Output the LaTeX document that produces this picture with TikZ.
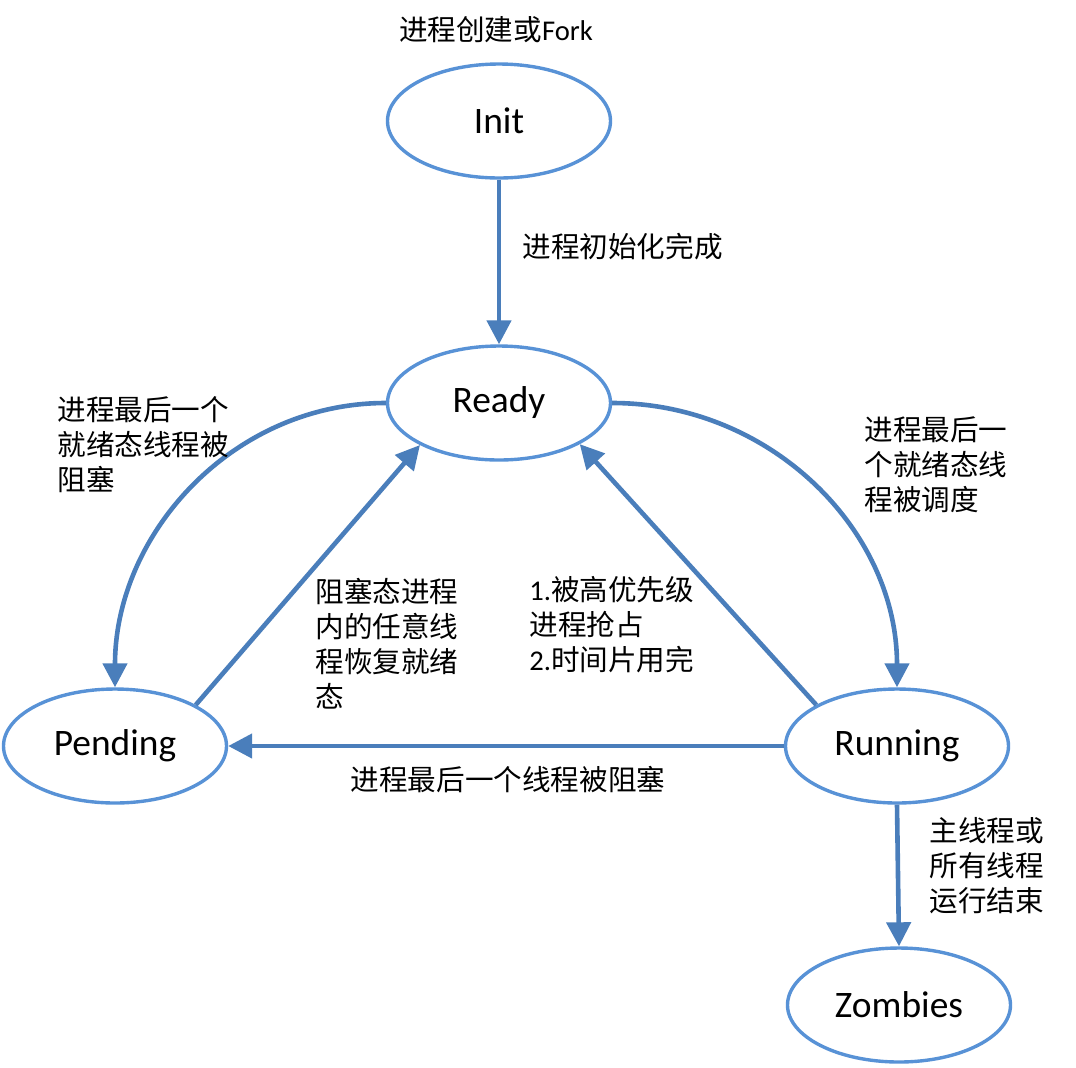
\documentclass[tikz,border=0pt]{standalone}
\usepackage{fontspec}
\setmainfont{Noto Sans CJK SC}
\newfontfamily\latin{Carlito}
\usepackage{xcolor}
\usetikzlibrary{shapes.geometric}
\usetikzlibrary{arrows.meta}
\definecolor{ringblue}{RGB}{88,146,214}
\definecolor{edgeblue}{RGB}{74,126,187}

\begin{document}
\begin{tikzpicture}[x=0.5pt,y=-0.5pt,
  proc/.style={ellipse,draw=ringblue,line width=1.7pt,minimum width=111.5pt,minimum height=57pt,inner sep=0pt,font=\latin\fontsize{18.7}{22}\selectfont},
  lbl/.style={inner sep=0pt,align=left,font=\fontsize{14.3}{17.5}\selectfont},
  edge/.style={draw=edgeblue,line width=2.3pt,-{Triangle[length=12pt,width=12pt]}}]

  \useasboundingbox (0,0) rectangle (1076,1067);

  \node[proc] at (499,121) (init){Init};
  \node[proc] at (499,403) (ready){Ready};
  \node[proc] at (115,746) (pending){Pending};
  \node[proc] at (897,746) (running){Running};
  \node[proc] at (899,1005) (zombies){Zombies};

  % transitions
  \draw[edge] (init.south) -- (ready.north);
  \draw[edge] (ready.west) to[out=180,in=90] (pending.north);
  \draw[edge] (ready.east) to[out=0,in=90] (running.north);
  \draw[edge] (pending.27) -- (ready.208);
  \draw[edge] (running.153) -- (ready.333);
  \draw[edge] (running.west) -- (pending.east);
  \draw[edge] (running.south) -- (zombies.north);

  % labels
  \node[lbl] at (496,30) (lfork){进程创建或{\latin Fork}};
  \node[lbl,anchor=west] at (522,247) (linit){进程初始化完成};
  \node[lbl,anchor=west] at (57,445) (lblock){进程最后一个\\就绪态线程被\\阻塞};
  \node[lbl,anchor=west] at (864,465) (lsched){进程最后一\\个就绪态线\\程被调度};
  \node[lbl,anchor=west] at (315,644) (lwake){阻塞态进程\\内的任意线\\程恢复就绪\\态};
  \node[lbl,anchor=west] at (529,625) (lpre){{\latin 1.}被高优先级\\进程抢占\\{\latin 2.}时间片用完};
  \node[lbl] at (508,780) (lrun){进程最后一个线程被阻塞};
  \node[lbl,anchor=west] at (929,866) (lend){主线程或\\所有线程\\运行结束};

\end{tikzpicture}
\end{document}
